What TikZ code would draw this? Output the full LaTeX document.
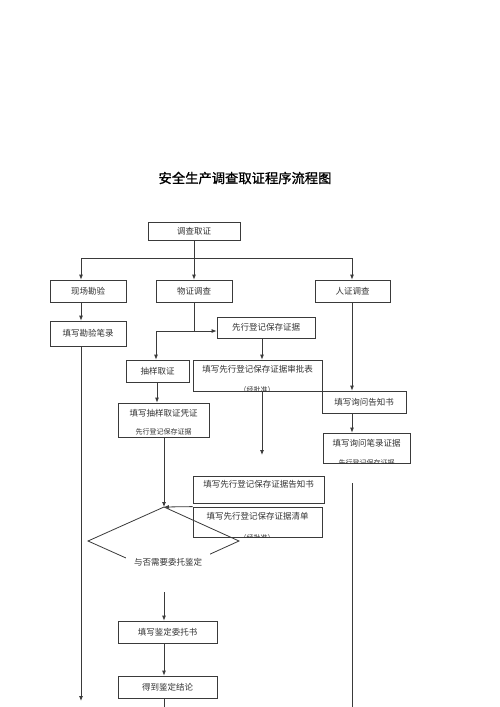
\documentclass[tikz,border=0pt]{standalone}
\usepackage{fontspec}
\newfontfamily\cjk{Noto Sans CJK SC}
\newfontfamily\cjkt[FakeBold=1.2]{Noto Sans CJK SC}
\usetikzlibrary{arrows.meta,calc}
\definecolor{lc}{HTML}{3A3A3A}
\definecolor{tc}{HTML}{333333}
\begin{document}
\begin{tikzpicture}[x=1pt,y=-1pt,
  ln/.style={draw=lc, line width=0.8pt},
  arr/.style={ln, -{Latex[length=5pt,width=4pt]}},
  bx/.style={draw=lc, line width=0.8pt, fill=white, inner sep=0pt, font=\cjk\fontsize{8.5}{10}\selectfont, text=tc},
  tx/.style={inner sep=0pt, font=\cjk\fontsize{8.5}{10}\selectfont, text=tc},
  sm/.style={inner sep=0pt, font=\cjk\fontsize{7}{8}\selectfont, text=tc}
]
\useasboundingbox (0,0) rectangle (500,707);
\fill[white] (0,0) rectangle (500,707);

% title
\node[inner sep=0pt, font=\cjkt\fontsize{13.3}{15}\selectfont, text=black] (title) at (245,178) {安全生产调查取证程序流程图};

% boxes
\node[bx, minimum width=92pt, minimum height=18pt] (top) at (194,231) {调查取证};
\node[bx, minimum width=76pt, minimum height=22pt] (xc) at (88,291) {现场勘验};
\node[bx, minimum width=76pt, minimum height=22pt] (wz) at (194,291) {物证调查};
\node[bx, minimum width=75pt, minimum height=22pt] (rz) at (352.5,291) {人证调查};
\node[bx, minimum width=76pt, minimum height=25pt] (kb) at (88,333.5) {填写勘验笔录};
\node[bx, minimum width=98pt, minimum height=21pt] (xx) at (266,327.5) {先行登记保存证据};
\node[bx, minimum width=63pt, minimum height=22pt] (cy) at (157.5,371) {抽样取证};

\node[bx, minimum width=129pt, minimum height=31pt] (sp) at (257.5,375.5) {};
\node[tx] (spt) at (257.5,369) {填写先行登记保存证据审批表};
\begin{scope}
  \clip (sp.north west) rectangle (sp.south east);
  \node[sm] (sps) at (257,390) {（经批准）};
\end{scope}

\node[bx, minimum width=91pt, minimum height=34pt] (pz) at (163.5,420) {};
\node[tx] (pzt) at (163.5,413) {填写抽样取证凭证};
\begin{scope}
  \clip (pz.north west) rectangle (pz.south east);
  \node[sm] (pzs) at (163.5,432) {先行登记保存证据};
\end{scope}

\node[bx, minimum width=84pt, minimum height=22pt] (gz) at (364,402) {填写询问告知书};

\node[bx, minimum width=87pt, minimum height=30pt] (bl) at (366.5,448) {};
\node[tx] (blt) at (366.5,443) {填写询问笔录证据};
\begin{scope}
  \clip (bl.north west) rectangle (bl.south east);
  \node[sm] (bls) at (366.5,463) {先行登记保存证据};
\end{scope}

\node[bx, minimum width=131pt, minimum height=27pt] (gzs) at (258.5,489.5) {};
\node[tx] (gzst) at (258.5,484) {填写先行登记保存证据告知书};

\node[bx, minimum width=129pt, minimum height=30pt] (qd) at (257.5,522) {};
\node[tx] (qdt) at (257.5,516) {填写先行登记保存证据清单};
\begin{scope}
  \clip (qd.north west) rectangle (qd.south east);
  \node[sm] (qds) at (257,537.5) {（经批准）};
\end{scope}

% diamond
\coordinate (dt) at (164,507);
\coordinate (dl) at (88,541);
\coordinate (dr) at (239,541);
\coordinate (db) at (164,575);
\draw[ln] (dt) -- (dr) -- (db) -- (dl) -- cycle;
\node[tx, fill=white, minimum width=84pt, minimum height=28pt] (dq) at (168,562) {与否需要委托鉴定};

\node[bx, minimum width=99pt, minimum height=22pt] (wt) at (167.5,632) {填写鉴定委托书};
\node[bx, minimum width=99pt, minimum height=22pt] (res) at (167.5,687) {得到鉴定结论};

% connectors
\coordinate (j0) at (194,258);
\coordinate (jl) at (81,258);
\coordinate (jr) at (352,258);
\draw[ln] (top.south) -- (j0);
\draw[ln] (jl) -- (jr);
\draw[arr] (jl) -- (jl |- xc.north);
\draw[arr] (j0) -- (wz.north);
\draw[arr] (jr) -- (jr |- rz.north);
\draw[arr] (jl |- xc.south) -- (jl |- kb.north);
\coordinate (lend) at (81,701);
\draw[arr] (jl |- kb.south) -- (lend);

\coordinate (j1) at (194,331);
\coordinate (j2) at (156,331);
\draw[ln] (wz.south) -- (j1);
\draw[arr] (j2) -- (j2 -| xx.west);
\draw[arr] (j2) -- (j2 |- cy.north);

\coordinate (cx3) at (262,0);
\draw[arr] (cx3 |- xx.south) -- (cx3 |- sp.north);
\coordinate (e4) at (262,455);
\draw[arr] (cx3 |- sp.south) -- (e4);

\coordinate (cx4) at (157,0);
\draw[arr] (cx4 |- cy.south) -- (cx4 |- pz.north);
\coordinate (cx5) at (164,0);
\draw[arr] (cx5 |- pz.south) -- (dt);
\draw[arr] (qd.north west) -- (dt);

\draw[arr] (jr |- rz.south) -- (jr |- gz.north);
\draw[arr] (jr |- gz.south) -- (jr |- bl.north);
\coordinate (r1) at (352,483);
\coordinate (r2) at (352,707);
\draw[ln] (r1) -- (r2);

\coordinate (d1) at (164,592);
\draw[arr] (d1) -- (cx5 |- wt.north);
\draw[arr] (cx5 |- wt.south) -- (cx5 |- res.north);
\coordinate (b1) at (164,707);
\draw[ln] (cx5 |- res.south) -- (b1);
\end{tikzpicture}
\end{document}
